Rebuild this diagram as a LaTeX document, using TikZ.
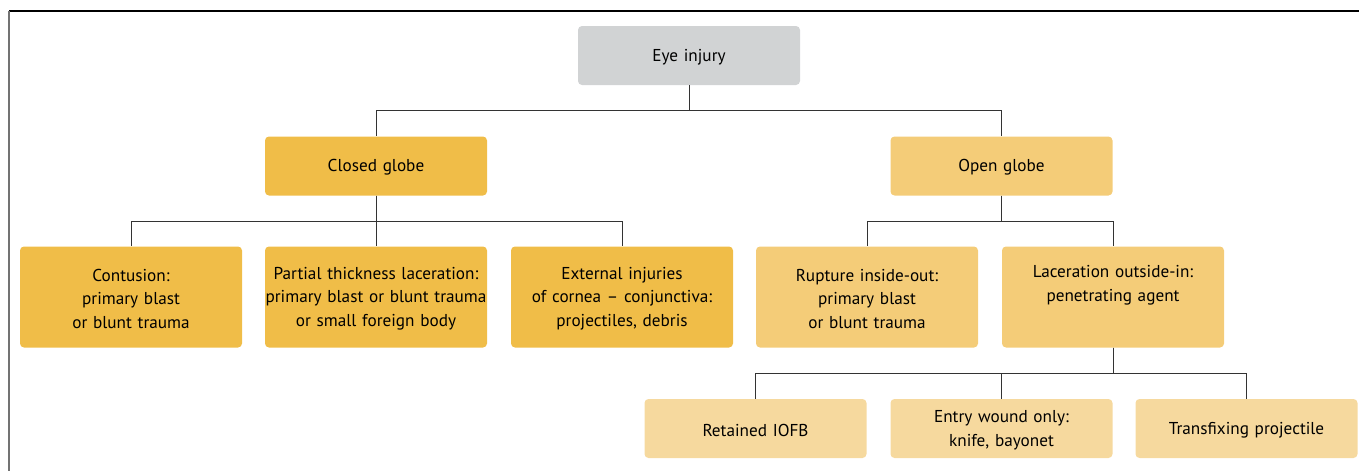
\documentclass[tikz,border=0pt]{standalone}
\usepackage{fontspec}
\setmainfont{PT Sans}
\definecolor{cgray}{HTML}{D1D3D4}
\definecolor{cdark}{HTML}{F0BD48}
\definecolor{cmid}{HTML}{F4CC78}
\definecolor{clight}{HTML}{F6D99E}
\definecolor{cline}{HTML}{333333}
\tikzset{
  box/.style={rounded corners=4pt, minimum width=222pt, text width=222pt, align=center,
    inner sep=0pt, font=\fontsize{17.2}{23.5}\selectfont, text=black, text height=15.5pt},
  small/.style={box, minimum height=59pt},
  tall/.style={box, minimum height=101pt},
  conn/.style={draw=cline, line width=0.9pt},
}
\begin{document}
\begin{tikzpicture}[x=1pt,y=-1pt]
\useasboundingbox (0,0) rectangle (1359,471);
\draw[black, line width=1.2pt] (9,11) -- (1359,11);
\draw[gray!110, line width=2pt] (9,11) -- (9,471);
\node[small, fill=cgray] (eye) at (689,55.5) {Eye injury};
\node[small, fill=cdark] (closed) at (376,166) {Closed globe};
\node[small, fill=cmid] (open) at (1001.5,166) {Open globe};
\node[tall, fill=cdark] (cont) at (131,297) {Contusion:\\primary blast\\or blunt trauma};
\node[tall, fill=cdark] (part) at (376,297) {Partial thickness laceration:\\primary blast or blunt trauma\\or small foreign body};
\node[tall, fill=cdark] (ext) at (622,297) {External injuries\\of cornea -- conjunctiva:\\projectiles, debris};
\node[tall, fill=cmid] (rupt) at (867,297) {Rupture inside-out:\\primary blast\\or blunt trauma};
\node[tall, fill=cmid] (lac) at (1113,297) {Laceration outside-in:\\penetrating agent\\\strut};
\node[small, fill=clight] (ret) at (755.5,428.5) {Retained IOFB};
\node[small, fill=clight] (entry) at (1001.5,428.5) {Entry wound only:\\knife, bayonet};
\node[small, fill=clight] (trans) at (1246.5,428.5) {Transfixing projectile};
\draw[conn] (eye.south) -- ++(0,25) -| (closed.north);
\draw[conn] (eye.south) -- ++(0,25) -| (open.north);
\draw[conn] (closed.south) -- ++(0,26) -| (cont.north);
\draw[conn] (closed.south) -- (part.north);
\draw[conn] (closed.south) -- ++(0,26) -| (ext.north);
\draw[conn] (open.south) -- ++(0,26) -| (rupt.north);
\draw[conn] (open.south) -- ++(0,26) -| (lac.north);
\draw[conn] (lac.south) -- ++(0,26) -| (ret.north);
\draw[conn] (lac.south) -- ++(0,26) -| (entry.north);
\draw[conn] (lac.south) -- ++(0,26) -| (trans.north);
\end{tikzpicture}
\end{document}
